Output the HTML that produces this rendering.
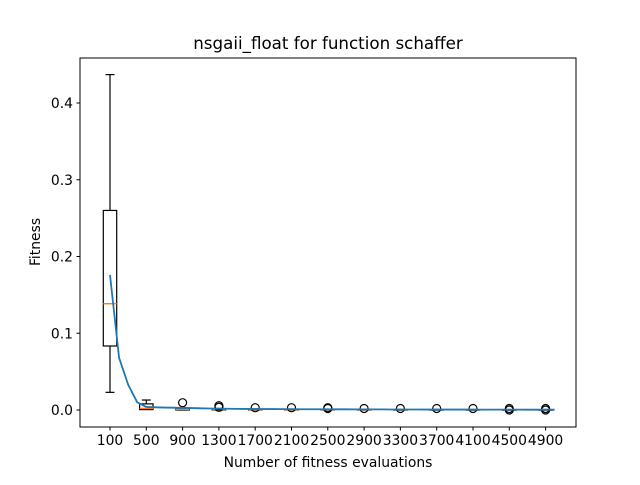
<!DOCTYPE html>
<html><head><meta charset="utf-8"><style>
body{margin:0;background:#fff;}
svg text{font-family:"DejaVu Sans","Liberation Sans",sans-serif;}
</style></head><body>
<svg id="chart" width="640" height="480" xmlns="http://www.w3.org/2000/svg">
<rect width="640" height="480" fill="#fff"/>
<text x="328" y="49" font-size="16.7" text-anchor="middle">nsgaii_float for function schaffer</text>
<g id="marks"></g>
<rect x="80" y="58" width="496" height="369" fill="none" stroke="#000" stroke-width="1"/>
<g id="axes"></g>
<text x="328" y="467" font-size="13.9" text-anchor="middle">Number of fitness evaluations</text>
<text transform="translate(40,242) rotate(-90)" font-size="13.9" text-anchor="middle">Fitness</text>
</svg>
<script>
const categories=[100,500,900,1300,1700,2100,2500,2900,3300,3700,4100,4500,4900];
const whiskLo=[0.023,0.001,0,0,0,0,0,0,0,0,0,0,0];
const q1=[0.0834,0.0005,0,0,0,0,0,0,0,0,0,0,0];
const medians=[0.1385,0.002,0.0008,0.0005,0.0004,0.0003,0.0003,0.0002,0.0002,0.0002,0.0002,0.0001,0.0001];
const q3=[0.26,0.008,0.002,0.0015,0.001,0.001,0.0008,0.0006,0.0005,0.0005,0.0005,0.0004,0.0004];
const whiskHi=[0.437,0.013,0.003,0.002,0.0015,0.0012,0.001,0.0008,0.0007,0.0007,0.0007,0.0006,0.0006];
const fliers=[[],[],[0.0095],[0.0055,0.0035],[0.003],[0.003],[0.003,0.002],[0.002],[0.002],[0.002],[0.002],[0.002,0.0],[0.002,0.0]];
const lineX=[];for(let i=1;i<=50;i++)lineX.push(i*100);
const lineY=[0.176,0.068,0.033,0.010,0.004,0.0035,0.0032,0.003,0.0028,0.0025,0.0022,0.002,0.0018,0.0016,0.0015,0.0014,0.0013,0.0012,0.0012,0.0011,0.0011,0.001,0.001,0.001,0.0009,0.0009,0.0009,0.0008,0.0008,0.0008,0.0008,0.0007,0.0007,0.0007,0.0007,0.0006,0.0006,0.0006,0.0006,0.0006,0.0005,0.0005,0.0005,0.0005,0.0005,0.0005,0.0004,0.0004,0.0004,0.0004];
const yTicks=[0,0.1,0.2,0.3,0.4];
const yTickLabels=["0.0","0.1","0.2","0.3","0.4"];
const NS="http://www.w3.org/2000/svg";
const X=v=>110+(v-100)*0.09075;
const Y=v=>410-v*767.5;
const marks=document.getElementById('marks'),axes=document.getElementById('axes');
function mk(tag,attrs,parent){const e=document.createElementNS(NS,tag);for(const k in attrs)e.setAttribute(k,attrs[k]);parent.appendChild(e);return e;}
const hw=6.7,cap=4.5;
categories.forEach((c,i)=>{
  const g=mk('g',{},marks);
  
  
  const cx=X(c);
  mk('line',{x1:cx,x2:cx,y1:Y(q1[i]),y2:Y(whiskLo[i]),stroke:'#000','stroke-width':1.2},g);
  mk('line',{x1:cx,x2:cx,y1:Y(q3[i]),y2:Y(whiskHi[i]),stroke:'#000','stroke-width':1.2},g);
  mk('line',{x1:cx-cap,x2:cx+cap,y1:Y(whiskLo[i]),y2:Y(whiskLo[i]),stroke:'#000','stroke-width':1.2},g);
  mk('line',{x1:cx-cap,x2:cx+cap,y1:Y(whiskHi[i]),y2:Y(whiskHi[i]),stroke:'#000','stroke-width':1.2},g);
  const top=Y(q3[i]),bot=Y(q1[i]);
  mk('rect',{x:cx-hw,y:top,width:2*hw,height:Math.max(bot-top,0.5),fill:'none',stroke:'#000','stroke-width':1.2},g);
  mk('line',{x1:cx-hw,x2:cx+hw,y1:Y(medians[i]),y2:Y(medians[i]),stroke:'#ff7f0e','stroke-width':1.4},g);
  fliers[i].forEach(f=>{const c2=mk('circle',{cx:cx,cy:Y(f),r:4,fill:'none',stroke:'#000','stroke-width':1.2},g);
    
    });
});
const pl=mk('polyline',{points:lineX.map((v,i)=>X(v)+','+Y(lineY[i])).join(' '),fill:'none',stroke:'#1f77b4','stroke-width':1.8},marks);


categories.forEach(c=>{
  const x=X(c);
  mk('line',{x1:x,x2:x,y1:427,y2:430.5,stroke:'#000'},axes);
  const t=mk('text',{x:x,y:445,'font-size':13.9,'text-anchor':'middle'},axes);t.textContent=c;
  
  
});
yTicks.forEach((v,i)=>{
  const y=Y(v);
  mk('line',{x1:76.5,x2:80,y1:y,y2:y,stroke:'#000'},axes);
  const t=mk('text',{x:73,y:y+5,'font-size':13.9,'text-anchor':'end'},axes);t.textContent=yTickLabels[i];
  
  
});
</script>
</body></html>
